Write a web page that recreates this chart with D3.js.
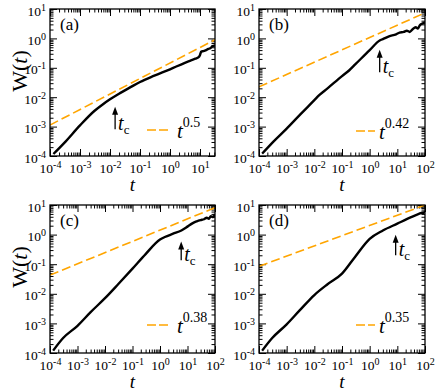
<!DOCTYPE html>
<html>
<head>
<meta charset="utf-8">
<script src="https://cdn.jsdelivr.net/npm/d3@7"></script>
<style>
  body { margin: 0; background: #fff; }
</style>
</head>
<body>
<svg id="fig" width="436" height="392" font-family="Liberation Serif"></svg>
<script>
// panel names, x range, fitted power law and t_c marks
const panelNames = ['(a)', '(b)', '(c)', '(d)'];
const tMax = [31.6, 100, 100, 100];
const fitExponent = ['0.5', '0.42', '0.38', '0.35'];
const fitStartW = [1.13e-3, 0.0225, 0.043, 0.085];   // dashed line at t = 1e-4
const fitEndW = [0.9, 7.4, 8.1, 10];                 // dashed line at t = tMax
const tcValues = [0.0148, 2.3, 5.9, 8.7];
const arrowTipW = [4.7e-3, 0.41, 0.59, 0.98];
const arrowTailW = [8.1e-4, 0.071, 0.135, 0.2];

// W(t) curves
const tA = [1.3e-4, 3e-4, 1e-3, 3e-3, 6e-3, 1e-2, 2e-2, 5e-2, 0.1, 0.3, 1, 3, 5, 7, 9, 10, 11, 13, 16, 19, 22, 26, 31.6];
const wA = [1.17e-4, 2.8e-4, 1.1e-3, 3.4e-3, 5.9e-3, 8.5e-3, 1.32e-2, 2.24e-2, 3.3e-2, 5.4e-2, 8.9e-2, 0.145, 0.178, 0.204, 0.23, 0.275, 0.355, 0.37, 0.4, 0.44, 0.46, 0.54, 0.575];

const tB = [1.3e-4, 3e-4, 1e-3, 3e-3, 1e-2, 1.5e-2, 3e-2, 0.1, 0.18, 0.3, 1, 2.3, 3, 5, 9, 12, 17, 22, 28, 35, 46, 55, 65, 80, 100];
const wB = [1.2e-4, 2.8e-4, 8.5e-4, 2.5e-3, 7.9e-3, 1.17e-2, 2e-2, 5.2e-2, 8.1e-2, 0.13, 0.4, 0.85, 0.95, 1.18, 1.38, 1.58, 1.66, 1.82, 1.66, 2.0, 2.4, 2.15, 2.8, 3.2, 3.5];

const tC = [1.3e-4, 3e-4, 1e-3, 3e-3, 1e-2, 3e-2, 0.1, 0.3, 1, 1.5, 3, 6, 10, 15, 20, 25, 30, 40, 50, 60, 70, 85, 100];
const wC = [1.2e-4, 3.2e-4, 8.3e-4, 2.4e-3, 7.1e-3, 2.1e-2, 7.1e-2, 0.22, 0.68, 0.83, 1.07, 1.38, 1.86, 2.4, 2.75, 2.95, 3.1, 3.3, 3.7, 3.4, 4.2, 3.9, 5.0];

const tD = [1.3e-4, 3e-4, 1e-3, 3e-3, 1e-2, 3e-2, 0.1, 0.3, 1, 3, 10, 30, 60, 80, 90, 100];
const wD = [1.2e-4, 3.2e-4, 9.3e-4, 2.8e-3, 9.1e-3, 2.1e-2, 4.8e-2, 0.18, 0.72, 1.38, 2.35, 3.8, 5.0, 5.5, 5.4, 6.3];

const tSeries = [tA, tB, tC, tD];
const wSeries = [wA, wB, wC, wD];

const frames = [
  {x0: 50, x1: 215, y0: 9, y1: 156},
  {x0: 259, x1: 425, y0: 9, y1: 156},
  {x0: 50, x1: 215, y0: 205, y1: 353},
  {x0: 259, x1: 425, y0: 205, y1: 353}
];
// legend placement inside each frame: dash start/end, text x, dash y
const legendPos = [
  {a: 97, b: 119, tx: 127, y: 121},
  {a: 97, b: 116, tx: 120, y: 122},
  {a: 97, b: 119, tx: 127, y: 120},
  {a: 97, b: 116, tx: 120, y: 120}
];

const orange = '#FFA500';
const serif = 'Liberation Serif';
const svg = d3.select('#fig');

function decades(lo, hi) {
  const out = [];
  for (let k = lo; k <= hi; k++) out.push(Math.pow(10, k));
  return out;
}
function minors(lo, hi, max) {
  const out = [];
  for (let k = lo; k < hi; k++) {
    for (let m = 2; m <= 9; m++) {
      const v = m * Math.pow(10, k);
      if (v < max) out.push(v);
    }
  }
  return out;
}
function powLabel(sel) {
  sel.each(function(d) {
    const t = d3.select(this);
    const e = Math.round(Math.log10(d));
    t.text(null);
    t.append('tspan').text('10');
    t.append('tspan').attr('dy', '-0.5em').attr('font-size', '10px').text(e);
  });
}

frames.forEach((f, i) => {
  const x = d3.scaleLog().domain([1e-4, tMax[i]]).range([f.x0, f.x1]);
  const y = d3.scaleLog().domain([1e-4, 10]).range([f.y1, f.y0]);
  const g = svg.append('g');

  const xMajor = decades(-4, 2).filter(v => v <= tMax[i] * 1.001);
  const xMinor = minors(-4, 2, tMax[i]);
  const yMajor = decades(-4, 1);
  const yMinor = minors(-4, 1, 10);

  const clipId = 'clip' + i;
  g.append('clipPath').attr('id', clipId)
    .append('rect').attr('x', f.x0).attr('y', f.y0)
    .attr('width', f.x1 - f.x0).attr('height', f.y1 - f.y0);

  // ticks on all four sides, pointing in
  const addAxis = (axis, tr) => {
    const a = g.append('g').attr('transform', tr).call(axis)
      .attr('font-family', serif).attr('font-size', 13.5);
    a.select('.domain').remove();
    a.selectAll('line').attr('stroke', '#000').attr('stroke-width', 1);
    return a;
  };
  addAxis(d3.axisBottom(x).tickValues(xMinor).tickSize(-3.5).tickFormat(''), `translate(0,${f.y1})`);
  addAxis(d3.axisTop(x).tickValues(xMinor).tickSize(-3.5).tickFormat(''), `translate(0,${f.y0})`);
  addAxis(d3.axisLeft(y).tickValues(yMinor).tickSize(-3.5).tickFormat(''), `translate(${f.x0},0)`);
  addAxis(d3.axisRight(y).tickValues(yMinor).tickSize(-3.5).tickFormat(''), `translate(${f.x1},0)`);
  addAxis(d3.axisTop(x).tickValues(xMajor).tickSize(-7).tickFormat(''), `translate(0,${f.y0})`);
  addAxis(d3.axisRight(y).tickValues(yMajor).tickSize(-7).tickFormat(''), `translate(${f.x1},0)`);

  const xb = addAxis(d3.axisBottom(x).tickValues(xMajor).tickSize(-7).tickPadding(7), `translate(0,${f.y1})`);
  xb.selectAll('text').attr('fill', '#000').call(powLabel);
  const yl = addAxis(d3.axisLeft(y).tickValues(yMajor).tickSize(-7).tickPadding(4), `translate(${f.x0},0)`);
  yl.selectAll('text').attr('fill', '#000').attr('dy', '0.45em').call(powLabel);

  // fitted power law
  g.append('line')
    .attr('clip-path', `url(#${clipId})`)
    .attr('x1', x(1e-4)).attr('y1', y(fitStartW[i]))
    .attr('x2', x(tMax[i])).attr('y2', y(fitEndW[i]))
    .attr('stroke', orange).attr('stroke-width', 1.6)
    .attr('stroke-dasharray', '9,4');

  // W(t) curve
  const pts = tSeries[i].map((t, j) => [t, wSeries[i][j]]);
  g.append('path')
    .datum(pts)
    .attr('clip-path', `url(#${clipId})`)
    .attr('fill', 'none').attr('stroke', '#000').attr('stroke-width', 2.4)
    .attr('stroke-linejoin', 'round')
    .attr('d', d3.line().x(d => x(d[0])).y(d => y(d[1])).curve(d3.curveMonotoneX));

  // frame
  g.append('rect')
    .attr('x', f.x0).attr('y', f.y0)
    .attr('width', f.x1 - f.x0).attr('height', f.y1 - f.y0)
    .attr('fill', 'none').attr('stroke', '#000').attr('stroke-width', 1.3);

  // panel name
  g.append('text')
    .attr('x', f.x0 + 10).attr('y', f.y0 + 21)
    .attr('font-size', 17).text(panelNames[i]);

  // t_c arrow
  const ax = x(tcValues[i]);
  const tipY = y(arrowTipW[i]);
  const tailY = y(arrowTailW[i]);
  g.append('line')
    .attr('x1', ax).attr('x2', ax).attr('y1', tailY).attr('y2', tipY + 6)
    .attr('stroke', '#000').attr('stroke-width', 1.3);
  g.append('path')
    .attr('d', `M${ax},${tipY} L${ax - 3},${tipY + 8} L${ax + 3},${tipY + 8} Z`)
    .attr('fill', '#000');
  const tc = g.append('text')
    .attr('x', ax + 3).attr('y', tailY + 1)
    .attr('font-size', 20);
  tc.append('tspan').attr('font-style', 'italic').text('t');
  tc.append('tspan').attr('font-size', 13).attr('dy', 4).text('c');

  // legend
  const lp = legendPos[i];
  g.append('line')
    .attr('x1', f.x0 + lp.a).attr('x2', f.x0 + lp.b)
    .attr('y1', f.y0 + lp.y).attr('y2', f.y0 + lp.y)
    .attr('stroke', orange).attr('stroke-width', 1.6)
    .attr('stroke-dasharray', '9,3');
  const lt = g.append('text')
    .attr('x', f.x0 + lp.tx).attr('y', f.y0 + lp.y + 8)
    .attr('font-size', 21);
  lt.append('tspan').attr('font-style', 'italic').text('t');
  lt.append('tspan').attr('font-size', 14).attr('dy', -11).text(fitExponent[i]);

  // axis titles
  svg.append('text')
    .attr('x', (f.x0 + f.x1) / 2).attr('y', f.y1 + 34.5)
    .attr('text-anchor', 'middle').attr('font-size', 19)
    .attr('font-style', 'italic').text('t');
  if (i % 2 === 0) {
    const yt = svg.append('text')
      .attr('transform', `translate(27,${f.y0 + 62}) rotate(-90)`)
      .attr('text-anchor', 'middle').attr('font-size', 22);
    yt.append('tspan').text('W(');
    yt.append('tspan').attr('font-style', 'italic').text('t');
    yt.append('tspan').text(')');
  }
});
</script>
</body>
</html>
